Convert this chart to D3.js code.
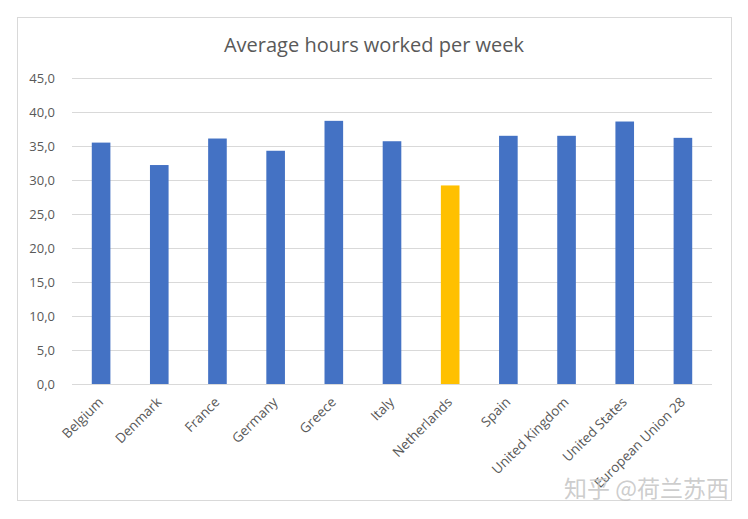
<!DOCTYPE html>
<html>
  <head>
    <meta charset="utf-8" />
    <title>Average hours worked per week</title>
    <script src="https://d3js.org/d3.v7.min.js"></script>
    <style>
      body { margin: 0; background: #fff; }
      text { font-family: "Open Sans", "Noto Sans", sans-serif; }
    </style>
  </head>
  <body>
    <div id="chart"></div>
    <script>
      // data
      var countries = ["Belgium", "Denmark", "France", "Germany", "Greece", "Italy",
        "Netherlands", "Spain", "United Kingdom", "United States", "European Union 28"];
      var hours = [35.5, 32.2, 36.1, 34.3, 38.7, 35.7, 29.2, 36.5, 36.5, 38.6, 36.2];
      var yTicks = [0, 5, 10, 15, 20, 25, 30, 35, 40, 45];

      var width = 748;
      var height = 519;
      var margin = { top: 78, right: 36, bottom: 135, left: 72 };

      var svg = d3.select("#chart")
        .append("svg")
        .attr("width", width)
        .attr("height", height);

      // chart frame
      svg.append("rect")
        .attr("x", 17.5).attr("y", 17.5)
        .attr("width", 714).attr("height", 483)
        .attr("fill", "#fff")
        .attr("stroke", "#d9d9d9");

      var x = d3.scaleBand()
        .domain(countries)
        .range([margin.left, width - margin.right])
        .paddingInner(0.68)
        .paddingOuter(0.34);

      var y = d3.scaleLinear()
        .domain([0, 45])
        .range([height - margin.bottom, margin.top]);

      // gridlines
      svg.append("g")
        .selectAll("line")
        .data(yTicks)
        .enter()
        .append("line")
        .attr("x1", margin.left)
        .attr("x2", width - margin.right)
        .attr("y1", function (d) { return Math.round(y(d)) + 0.5; })
        .attr("y2", function (d) { return Math.round(y(d)) + 0.5; })
        .attr("stroke", "#d9d9d9");

      // y labels
      var fmt = function (d) { return d.toFixed(1).replace(".", ","); };
      svg.append("g")
        .selectAll("text")
        .data(yTicks)
        .enter()
        .append("text")
        .attr("x", 55)
        .attr("y", function (d) { return y(d) + 5; })
        .attr("text-anchor", "end")
        .attr("fill", "#595959")
        .style("font-size", "13px")
        .text(fmt);

      // bars
      svg.append("g")
        .selectAll("rect")
        .data(countries)
        .enter()
        .append("rect")
        .attr("x", function (d) { return x(d); })
        .attr("y", function (d, i) { return y(hours[i]); })
        .attr("width", x.bandwidth())
        .attr("height", function (d, i) { return y(0) - y(hours[i]); })
        .attr("fill", function (d) { return d === "Netherlands" ? "#ffc000" : "#4472c4"; });

      // x labels, rotated
      svg.append("g")
        .selectAll("text")
        .data(countries)
        .enter()
        .append("text")
        .attr("transform", function (d) {
          return "translate(" + (x(d) + x.bandwidth() / 2 + 3) + "," + (y(0) + 19) + ") rotate(-45)";
        })
        .attr("text-anchor", "end")
        .attr("fill", "#595959")
        .style("font-size", "13.5px")
        .text(function (d) { return d; });

      // title
      svg.append("text")
        .attr("x", 374)
        .attr("y", 52)
        .attr("text-anchor", "middle")
        .attr("fill", "#595959")
        .style("font-size", "20px")
        .text("Average hours worked per week");

      // watermark
      svg.append("text")
        .attr("x", 729)
        .attr("y", 497)
        .attr("text-anchor", "end")
        .attr("fill", "#c4c4c4")
        .attr("fill-opacity", 0.85)
        .style("font-family", "'Noto Sans CJK SC', sans-serif")
        .style("font-size", "23px")
        .text("知乎 @荷兰苏西");
    </script>
  </body>
</html>
